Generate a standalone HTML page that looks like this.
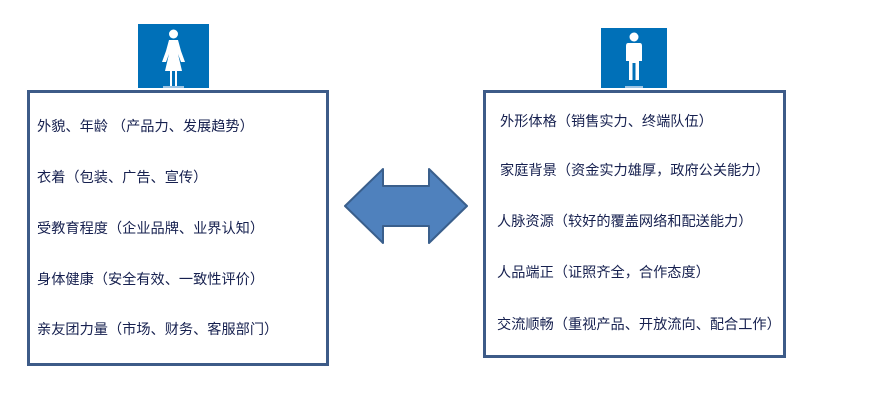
<!DOCTYPE html>
<html><head><meta charset="utf-8"><style>
body{margin:0;width:876px;height:402px;background:#fff;position:relative;overflow:hidden;font-family:"Liberation Sans","Noto Sans CJK SC",sans-serif;}
.box{position:absolute;border:3px solid #3d5b88;box-sizing:border-box;background:#fff}
.t{position:absolute;font-size:14.2px;color:#16204f;white-space:nowrap;line-height:16px}
.icon{position:absolute;background:#0070b8}
</style></head><body>
<div class="icon" style="left:138px;top:24px;width:71px;height:64px"></div>
<svg style="position:absolute;left:138px;top:24px" width="71" height="64">
<circle cx="35.5" cy="10" r="4.5" fill="#fff"/>
<path d="M31 16 H40 L43 27 L47 38 H43 L40 30 L44 47 H39 V62 H37 V47 H34 V62 H32 V47 H27 L31 30 L28 38 H24 L28 27 Z" fill="#fff"/>
<rect x="25" y="62" width="21" height="2" fill="#9cc4e4"/>
</svg>
<div class="icon" style="left:601px;top:28px;width:66px;height:60px"></div>
<svg style="position:absolute;left:601px;top:28px" width="66" height="60">
<circle cx="33" cy="9" r="4.5" fill="#fff"/>
<path d="M27 15 H39 Q41 15 41 18 V33 H38 V52 H34.5 V35 H31.5 V52 H28 V33 H25 V18 Q25 15 27 15 Z" fill="#fff"/>
<rect x="24" y="58" width="18" height="2" fill="#9cc4e4"/>
</svg>
<div class="box" style="left:27px;top:90px;width:302px;height:276px"></div>
<div class="box" style="left:483px;top:90px;width:303px;height:268px"></div>
<svg style="position:absolute;left:0;top:0" width="876" height="402">
<polygon points="345,206 383,169 383,186 429,186 429,169 467,206 429,243 429,226 383,226 383,243" fill="#4f81bd" stroke="#3a5f8c" stroke-width="2" stroke-linejoin="round"/>
</svg>
<div class="t" style="left:37px;top:119px">外貌、年龄 （产品力、发展趋势）</div>
<div class="t" style="left:37px;top:170px">衣着（包装、广告、宣传）</div>
<div class="t" style="left:37px;top:221px">受教育程度（企业品牌、业界认知）</div>
<div class="t" style="left:37px;top:272px">身体健康（安全有效、一致性评价）</div>
<div class="t" style="left:37px;top:322px">亲友团力量（市场、财务、客服部门）</div>
<div class="t" style="left:500px;top:114px">外形体格（销售实力、终端队伍）</div>
<div class="t" style="left:500px;top:163px">家庭背景（资金实力雄厚，政府公关能力）</div>
<div class="t" style="left:497px;top:214px">人脉资源（较好的覆盖网络和配送能力）</div>
<div class="t" style="left:497px;top:265px">人品端正（证照齐全，合作态度）</div>
<div class="t" style="left:497px;top:317px">交流顺畅（重视产品、开放流向、配合工作）</div>
</body></html>
